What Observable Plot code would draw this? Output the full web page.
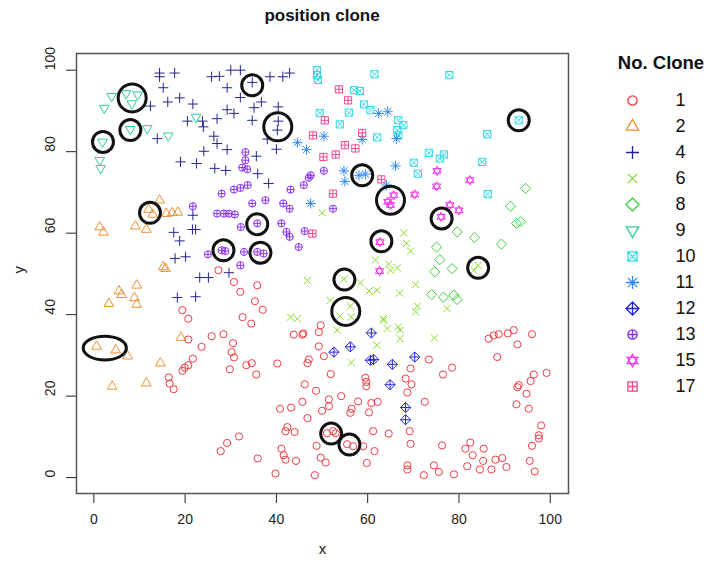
<!DOCTYPE html>
<html><head><meta charset="utf-8">
<script src="https://cdn.jsdelivr.net/npm/d3@7"></script>
<script src="https://cdn.jsdelivr.net/npm/@observablehq/plot@0.6"></script>
<style>
body{margin:0;background:#fff;font-family:"Liberation Sans",Arial,sans-serif;}
#wrap{position:relative;width:707px;height:562px;overflow:hidden;background:#fff;}
#wrap > *{position:absolute;}
#title{left:76px;width:492px;top:6px;text-align:center;font-weight:bold;font-size:17px;color:#111;}
#legtitle{left:600px;width:122px;top:52px;text-align:center;font-weight:bold;font-size:18.5px;color:#111;}
</style></head><body>
<div id="wrap">
  <div id="main" style="left:0;top:0"></div>
  <div id="legend" style="left:590px;top:0"></div>
  <div id="title">position clone</div>
  <div id="legtitle">No. Clone</div>
</div>
<script>
const clones = ["1","2","4","6","8","9","10","11","12","13","15","17"];
const colors = ["#ee3b45","#f08f30","#24248e","#86dc2c","#3ccf3c","#2fcf92","#2fdbe6","#2f88f5","#2424dc","#8a35ef","#f532ee","#f2468f"];
const xTicks = [0,20,40,60,80,100];
const yTicks = [0,20,40,60,80,100];

const clone1 = [[27.3,50.9],[30.7,48.0],[32.1,45.6],[35.8,47.2],[35.3,43.3],[37.0,41.2],[19.4,41.1],[20.7,39.0],[32.6,39.4],[34.5,37.8],[28.4,35.2],[30.5,33.0],[25.8,34.7],[20.7,33.9],[23.6,32.1],[43.8,35.1],[45.7,35.1],
[21.7,29.2],[30.2,30.8],[30.7,29.5],[20.7,27.6],[19.9,27.0],[19.4,26.2],[16.4,24.6],[16.6,23.1],[17.5,21.7],[29.8,26.6],[33.4,27.6],[34.6,28.1],[35.6,25.3],[40.2,28.0],[46.8,28.1],[47.1,29.0],[46.2,22.9],[45.7,18.6],[40.8,16.9],[43.2,17.2],[46.8,14.6],[42.4,12.4],[42.0,11.4],[44.0,11.2],[31.8,10.1],[29.2,8.5],[27.8,6.5],[35.9,4.7],[41.1,7.1],[41.6,5.5],[42.0,4.4],[44.3,4.1],[39.8,1.0],
[49.3,35.7],[86.5,34.1],[87.6,34.9],[88.7,35.2],[90.7,35.4],[92.0,36.2],[96.0,35.2],[92.8,32.7],[49.3,32.2],[50.4,29.8],[88.4,29.6],[73.4,29.0],[69.4,26.8],[78.5,27.0],[76.5,25.3],[51.9,25.4],[59.5,24.5],[59.7,23.5],[59.7,22.4],[68.3,24.3],[69.6,22.9],[48.7,21.3],[68.7,20.9],[54.2,20.0],[96.4,25.3],[99.2,25.7],[95.7,23.7],[92.8,22.2],[93.1,22.7],[94.8,20.6],[51.5,19.2],[51.5,17.5],[50.0,16.4],[57.9,18.7],[56.5,16.9],[56.2,15.9],[60.8,18.3],[62.2,18.6],[60.3,16.0],[72.5,18.6],[92.6,18.0],[95.3,16.9],[98.0,12.8],[51.1,10.9],[52.4,11.4],[53.0,10.9],[61.2,11.4],[64.6,10.8],[69.2,11.4],[97.5,10.4],[97.5,9.6],[55.5,8.2],[56.8,7.7],[59.0,7.7],[48.8,7.8],[61.5,6.5],[69.4,8.3],[76.3,7.9],[82.5,8.6],[81.4,7.1],[83.0,5.5],[85.4,7.1],[96.0,7.8],[49.7,4.9],[50.8,3.7],[59.8,3.6],[88.0,4.4],[89.5,4.8],[85.3,4.1],[95.5,4.1],[68.7,3.0],[68.7,2.0],[74.5,3.0],[75.6,1.4],[81.8,2.8],[84.6,2.0],[87.1,2.0],[90.4,2.6],[96.6,1.5],[48.4,0.6],[72.3,0.6],[78.9,0.8],[45.9,35.4],[49.7,37.4]];
const clone2 = [[14.4,68.1],[12.0,65.8],[12.9,64.6],[15.9,64.8],[17.2,65.0],[18.4,65.1],[1.3,61.5],[2.1,60.2],[9.1,61.7],[11.5,60.9],[15.2,51.7],[15.7,51.3],[9.4,47.2],[5.5,45.8],[6.1,44.9],[8.9,44.1],[9.4,42.5],[3.3,42.7],[19.1,34.4],[0.6,32.2],[4.8,31.3],[7.4,29.8],[14.6,28.1],[4.0,22.4],[11.5,23.2]];
const clone4 = [[14.4,99.3],[14.4,98.4],[17.7,99.3],[15.2,95.7],[25.8,98.4],[27.5,98.5],[30.0,100],[32.1,100],[29.2,95.7],[34.7,97.0],[38.6,98.4],[41.4,98.4],[42.9,99.3],[16.2,92.2],[18.8,93.2],[21.7,91.7],[12.4,91.2],[32.1,93.3],[35.1,90.8],[36.7,92.2],[40.4,91.0],[29.2,90.3],[30.7,89.4],[27.0,88.1],[34.7,87.7],[20.5,87.5],[23.8,87.5],[24.0,86.1],[40.4,87.5],[40.2,85.3],[38.0,83.1],[13.9,83.2],[26.3,83.8],[27.0,82.0],[29.2,80.5],[24.1,80.1],[40.0,80.6],[35.6,78.9],[19.0,77.5],[22.5,77.1],[26.5,75.9],[28.9,75.4],[35.9,74.6],[38.3,72.2],[21.7,64.4],[17.5,60.2],[21.6,60.9],[22.3,60.9],[18.8,58.1],[17.8,53.8],[20.1,54.2],[23.2,49.1],[25.1,49.1],[29.6,50.3],[18.3,44.2],[22.3,44.4]];
const clone6 = [[50.0,65.0],[67.9,60.1],[68.5,57.5],[69.4,55.6],[61.7,53.4],[64.6,52.4],[65.0,50.9],[66.5,51.5],[46.8,48.4],[54.8,48.7],[58.4,47.8],[60.3,45.8],[62.0,46.0],[67.0,45.3],[70.5,47.4],[84.2,52.1],[83.3,50.9],[51.8,43.5],[56.2,42.1],[53.9,39.6],[56.4,39.4],[70.9,42.1],[70.5,40.7],[77.4,41.5],[63.4,39.0],[63.5,38.6],[64.3,36.6],[66.7,37.0],[53.3,36.2],[67.1,34.1],[62.0,32.5],[74.6,34.3],[67.1,36.2],[56.4,28.2],[43.1,39.4],[44.6,39.0]];
const clone8 = [[91.3,66.6],[92.6,62.4],[93.5,62.8],[79.6,60.3],[83.4,58.9],[89.3,57.3],[75.1,56.6],[75.8,53.5],[78.5,51.3],[74.7,50.5],[74.0,44.9],[76.6,44.3],[78.9,44.8],[79.6,43.7],[94.6,71.0]];
const clone9 = [[3.9,93.6],[7.1,94.3],[9.6,94.0],[8.3,91.8],[2.3,90.7],[8.0,85.5],[11.7,85.7],[16.3,83.9],[1.9,82.4],[1.3,77.9],[1.5,75.9],[22.4,88.5]];
const clone10 = [[48.9,100],[48.9,98.8],[49.1,97.6],[61.5,99.0],[77.9,98.8],[57.0,95.1],[58.3,94.9],[59.2,91.6],[60.6,90.2],[49.5,89.5],[55.9,89.6],[53.9,86.7],[66.7,87.7],[67.8,86.5],[66.5,85.3],[66.7,84.0],[62.1,83.5],[86.2,84.3],[93.1,87.7],[73.4,79.7],[76.7,79.3],[75.8,78.3],[70.1,77.3],[71.0,74.6],[85.1,77.5],[86.3,69.6]];
const clone11 = [[62.4,89.4],[64.4,89.8],[50.4,83.8],[58.8,83.0],[66.3,83.2],[46.6,80.5],[54.8,75.3],[55.0,72.7],[58.1,74.2],[59.5,74.5],[66.1,76.5],[64.1,71.8],[47.5,67.3],[44.6,82.2]];
const clone12 = [[60.8,35.5],[56.2,32.1],[52.6,30.8],[60.6,28.8],[61.3,29.0],[65.4,27.8],[70.3,29.6],[64.9,22.8],[68.3,17.2],[68.3,14.2]];
const clone13 = [[33.2,79.9],[33.2,77.9],[32.5,76.1],[33.6,75.7],[28.0,69.7],[30.7,70.7],[32.1,71.1],[33.7,71.8],[34.7,67.3],[21.7,66.6],[27.0,64.8],[28.5,64.8],[29.6,64.8],[30.9,64.6],[37.6,68.1],[41.5,67.3],[42.9,66.0],[32.2,61.5],[35.8,62.4],[41.1,62.4],[42.2,60.3],[42.9,59.1],[44.9,56.6],[25.0,54.8],[28.0,55.8],[28.8,55.6],[32.9,55.4],[35.8,55.4],[37.2,55.0],[32.1,52.1],[43.1,70.7],[46.0,71.8],[47.5,74.2],[47.1,73.6],[50.4,75.3],[52.4,66.0],[46.2,60.5]];
const clone15 = [[75.2,75.3],[82.4,73.0],[75.1,71.5],[70.3,69.5],[65.7,69.3],[64.4,67.7],[65.0,66.9],[78.0,66.9],[80.0,65.6],[76.1,64.0],[62.7,57.8],[62.6,50.7]];
const clone17 = [[53.7,95.3],[55.7,92.6],[50.6,87.7],[48.0,84.0],[58.8,84.6],[55.0,81.6],[57.3,80.8],[50.3,78.7],[53.0,79.3],[63.0,73.2],[52.4,69.7],[47.9,59.9]];

// highlighted positions (black rings)
const ringX = [8.4,8.0,2.0,34.7,40.3,12.3,28.4,35.8,36.5,58.8,65.0,76.2,93.1,63.0,54.9,55.2,84.2,52.0,56.0];
const ringY = [93.2,85.3,82.4,96.3,86.1,65.0,55.8,62.2,55.2,74.2,68.1,63.6,87.7,58.0,48.6,40.8,51.5,10.8,8.1];
const ringKind = ["large","small","small","small","large","small","small","small","small","small","large","small","small","small","small","large","small","small","small"];
const ovalX = [2.4];
const ovalY = [31.8];

const cloneData = [clone1,clone2,clone4,clone6,clone8,clone9,clone10,clone11,clone12,clone13,clone15,clone17];

// R-like pch symbols
const TRC0 = Math.sqrt(4*Math.PI/(3*Math.sqrt(3)));
const TRC1 = TRC0*Math.sqrt(3)/2, TRC2 = TRC0/2;
const S2 = Math.SQRT2;
function sym(f){return {draw(ctx,size){const r=Math.sqrt(size/Math.PI); f(ctx,r);}};}
const circ=(c,r)=>{c.moveTo(r,0);c.arc(0,0,r,0,2*Math.PI);};
const plus=(c,a)=>{c.moveTo(-a,0);c.lineTo(a,0);c.moveTo(0,-a);c.lineTo(0,a);};
const times=(c,a)=>{c.moveTo(-a,-a);c.lineTo(a,a);c.moveTo(-a,a);c.lineTo(a,-a);};
const sq=(c,a)=>{c.moveTo(-a,-a);c.lineTo(a,-a);c.lineTo(a,a);c.lineTo(-a,a);c.closePath();};
const dia=(c,a)=>{c.moveTo(0,-a);c.lineTo(a,0);c.lineTo(0,a);c.lineTo(-a,0);c.closePath();};
const triU=(c,r)=>{c.moveTo(0,-TRC0*r);c.lineTo(TRC1*r,TRC2*r);c.lineTo(-TRC1*r,TRC2*r);c.closePath();};
const triD=(c,r)=>{c.moveTo(0,TRC0*r);c.lineTo(TRC1*r,-TRC2*r);c.lineTo(-TRC1*r,-TRC2*r);c.closePath();};
const symbols = [
  sym(circ),
  sym(triU),
  sym((c,r)=>plus(c,S2*r)),
  sym(times),
  sym((c,r)=>dia(c,S2*r)),
  sym(triD),
  sym((c,r)=>{sq(c,r);times(c,r);}),
  sym((c,r)=>{plus(c,S2*r);times(c,r);}),
  sym((c,r)=>{dia(c,S2*r);plus(c,S2*r);}),
  sym((c,r)=>{circ(c,r);plus(c,r);}),
  sym((c,r)=>{const k=0.85;triU(c,r*k);triD(c,r*k);}),
  sym((c,r)=>{sq(c,r);plus(c,r);})
];
const oval = {draw(c,size){const r=Math.sqrt(size/Math.PI);const rx=2.0*r, ry=1.1*r, k=0.5523;
  c.moveTo(rx,0);c.bezierCurveTo(rx,k*ry,k*rx,ry,0,ry);c.bezierCurveTo(-k*rx,ry,-rx,k*ry,-rx,0);
  c.bezierCurveTo(-rx,-k*ry,-k*rx,-ry,0,-ry);c.bezierCurveTo(k*rx,-ry,rx,-k*ry,rx,0);c.closePath();}};

const FONT = '"Liberation Sans", Arial, sans-serif';
const PR = 3.6;

const pointMarks = cloneData.map((arr,i) => Plot.dot(arr, {x: d=>d[0], y: d=>d[1], symbol: symbols[i], stroke: colors[i], strokeWidth: 1, r: PR, fill: "none"}));
const ringIdx = d3.range(ringX.length);

const main = Plot.plot({
  width: 590, height: 562,
  marginLeft: 76, marginRight: 22, marginTop: 53, marginBottom: 69,
  style: {fontFamily: FONT, fontSize: "14px", color: "#222", background: "transparent"},
  x: {domain: [-3.8, 104], ticks: xTicks, tickSize: 10, tickPadding: 11, tickFormat: d => `${d}`, label: null},
  y: {domain: [-3.9, 104.1], ticks: yTicks, tickSize: 10, tickFormat: () => "", label: null},
  marks: [
    Plot.frame({stroke: "#555", strokeWidth: 1.5}),
    ...pointMarks,
    Plot.dot(ringIdx.filter(i=>ringKind[i]==="small"), {x: i=>ringX[i], y: i=>ringY[i], r: 10.5, stroke: "#111", strokeWidth: 3, fill: "none"}),
    Plot.dot(ringIdx.filter(i=>ringKind[i]==="large"), {x: i=>ringX[i], y: i=>ringY[i], r: 14, stroke: "#111", strokeWidth: 3, fill: "none"}),
    Plot.dot(ovalX.map((v,i)=>i), {x: i=>ovalX[i], y: i=>ovalY[i], symbol: oval, r: 10.8, stroke: "#111", strokeWidth: 3, fill: "none"}),
    Plot.text(yTicks, {y: d=>d, text: d=>`${d}`, frameAnchor: "left", dx: -26, rotate: -90, fontSize: 14, fill: "#222", fontFamily: FONT}),
    Plot.text(["x"], {text: d=>d, frameAnchor: "bottom", dy: 60, fontSize: 15, fill: "#222", fontFamily: FONT}),
    Plot.text(["y"], {text: d=>d, frameAnchor: "left", dx: -57, rotate: -90, fontSize: 15, fill: "#222", fontFamily: FONT})
  ]
});
document.getElementById("main").appendChild(main);

const legend = Plot.plot({
  width: 117, height: 562, margin: 0,
  style: {fontFamily: FONT, background: "transparent"},
  y: {type: "point", domain: clones, range: [96.5, 388.5], padding: 0, axis: null},
  marks: [
    ...clones.map((c,i) => Plot.dot([c], {y: d=>d, frameAnchor: "left", dx: 42, symbol: symbols[i], stroke: colors[i], strokeWidth: 1.3, r: 4.6, fill: "none"})),
    Plot.text(clones, {y: d=>d, text: d=>d, frameAnchor: "left", dx: 85, fontSize: 18, fill: "#111", fontFamily: FONT})
  ]
});
document.getElementById("legend").appendChild(legend);
</script>
</body></html>
